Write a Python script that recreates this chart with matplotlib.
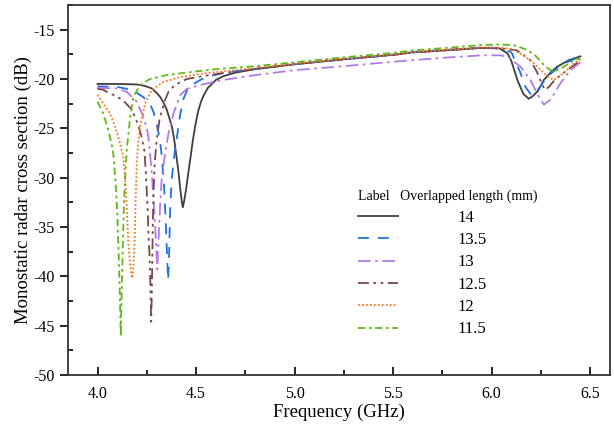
import matplotlib
matplotlib.use("Agg")
import matplotlib.pyplot as plt
from matplotlib.ticker import MultipleLocator, FormatStrFormatter

plt.rcParams['font.family'] = ['Liberation Serif', 'DejaVu Serif']
plt.rcParams['axes.unicode_minus'] = False

# 14 mm
f_14 = [4.0, 4.1, 4.2, 4.24, 4.275, 4.30, 4.317, 4.335, 4.351, 4.365, 4.377, 4.388, 4.398,
        4.41, 4.42, 4.428, 4.433, 4.44, 4.449, 4.46, 4.47, 4.483, 4.495, 4.51, 4.525, 4.54,
        4.56, 4.6, 4.64, 4.7, 4.8, 5.0, 5.25, 5.5, 5.6, 5.8, 5.95, 6.04, 6.08, 6.1, 6.13,
        6.16, 6.188, 6.21, 6.235, 6.264, 6.3, 6.332, 6.39, 6.45]
rcs_14 = [-20.5, -20.5, -20.55, -20.7, -20.95, -21.4, -21.8, -22.4, -23.1, -24.0, -24.8, -26.0, -27.5,
          -29.3, -31.2, -32.5, -33.0, -32.3, -31.2, -29.6, -28.2, -26.3, -24.8, -23.3, -22.3, -21.6,
          -20.9, -20.1, -19.7, -19.35, -19.0, -18.5, -18.0, -17.55, -17.3, -17.05, -16.85, -16.9, -17.4, -18.2, -20.1,
          -21.5, -22.0, -21.7, -21.2, -20.1, -19.3, -18.75, -18.1, -17.7]

# 13.5 mm
f_135 = [4.0, 4.1, 4.15, 4.19, 4.23, 4.266, 4.285, 4.30, 4.315, 4.326, 4.338, 4.346, 4.352,
         4.358, 4.363, 4.368, 4.375, 4.385, 4.393, 4.402, 4.42, 4.436, 4.453, 4.48, 4.52, 4.57,
         4.65, 4.8, 5.0, 5.25, 5.5, 5.6, 5.8, 5.95, 6.05, 6.1, 6.146, 6.171, 6.196, 6.21,
         6.225, 6.239, 6.281, 6.349, 6.45]
rcs_135 = [-20.75, -20.8, -21.0, -21.3, -21.8, -22.5, -23.4, -24.6, -26.0, -27.8, -31.0, -34.5, -37.5,
           -40.4, -38.0, -33.5, -30.5, -28.5, -27.2, -26.0, -23.5, -22.0, -21.2, -20.6, -20.1, -19.7,
           -19.35, -18.95, -18.5, -18.0, -17.55, -17.25, -17.0, -16.8, -16.85, -17.3, -19.4, -20.8, -21.5, -21.6,
           -21.3, -20.95, -19.8, -18.6, -17.7]

# 13 mm
f_13 = [4.0, 4.1, 4.148, 4.199, 4.232, 4.25, 4.258, 4.266, 4.275, 4.283, 4.29, 4.297, 4.303,
        4.309, 4.317, 4.326, 4.343, 4.36, 4.385, 4.42, 4.453, 4.52, 4.637, 4.8, 5.0, 5.25,
        5.5, 5.75, 5.95, 6.044, 6.08, 6.146, 6.196, 6.239, 6.264, 6.298, 6.349, 6.4, 6.45]
rcs_13 = [-20.9, -20.95, -21.3, -22.3, -23.8, -25.0, -25.9, -27.5, -29.5, -31.9, -34.0, -36.8, -39.3,
          -36.5, -33.0, -30.0, -27.5, -25.5, -23.5, -21.6, -21.0, -20.6, -20.1, -19.6, -19.1, -18.7,
          -18.25, -17.85, -17.6, -17.6, -17.75, -18.75, -20.1, -21.8, -22.6, -22.1, -20.4, -19.1, -18.3]

# 12.5 mm
f_125 = [4.0, 4.03, 4.063, 4.1, 4.131, 4.174, 4.207, 4.225, 4.238, 4.245, 4.254, 4.258, 4.263,
         4.267, 4.27, 4.272, 4.275, 4.278, 4.281, 4.285, 4.29, 4.30, 4.315, 4.343, 4.36, 4.393,
         4.453, 4.537, 4.65, 4.8, 5.0, 5.25, 5.5, 5.6, 5.8, 5.95, 6.05, 6.129, 6.196, 6.23,
         6.25, 6.27, 6.29, 6.315, 6.349, 6.417, 6.45]
rcs_125 = [-21.0, -21.1, -21.45, -21.8, -22.2, -23.1, -24.7, -26.0, -27.3, -29.5, -33.0, -35.6, -37.5,
           -40.0, -42.4, -44.6, -42.0, -38.0, -34.0, -31.0, -28.5, -26.2, -24.0, -22.1, -21.3, -20.6,
           -20.0, -19.7, -19.35, -19.0, -18.5, -18.0, -17.55, -17.3, -17.05, -16.85, -16.9, -17.1, -18.1, -19.3,
           -20.3, -21.1, -20.8, -20.2, -19.6, -18.6, -18.1]

# 12 mm
f_12 = [4.0, 4.029, 4.063, 4.089, 4.114, 4.131, 4.14, 4.148, 4.156, 4.165, 4.175, 4.182, 4.188,
        4.193, 4.199, 4.207, 4.216, 4.241, 4.275, 4.334, 4.419, 4.55, 4.7, 5.0, 5.25, 5.5,
        5.6, 5.8, 5.95, 6.05, 6.1, 6.162, 6.213, 6.264, 6.298, 6.315, 6.366, 6.417, 6.45]
rcs_12 = [-21.6, -22.5, -23.5, -24.8, -26.5, -27.9, -30.0, -33.0, -36.5, -38.8, -40.2, -39.0, -36.5,
          -32.5, -28.5, -26.3, -24.8, -22.5, -21.1, -20.3, -19.8, -19.4, -19.1, -18.45, -17.95, -17.5,
          -17.25, -17.0, -16.8, -16.85, -16.95, -17.6, -18.4, -19.4, -19.9, -20.1, -19.4, -18.4, -18.0]

# 11.5 mm
f_115 = [4.0, 4.029, 4.055, 4.078, 4.09, 4.10, 4.105, 4.11, 4.114, 4.118, 4.122, 4.128, 4.135,
         4.148, 4.165, 4.182, 4.216, 4.266, 4.351, 4.47, 4.6, 4.8, 5.0, 5.25, 5.5, 5.6,
         5.8, 5.95, 6.05, 6.12, 6.18, 6.22, 6.256, 6.29, 6.315, 6.366, 6.417, 6.45]
rcs_115 = [-22.3, -23.5, -25.2, -27.2, -30.0, -33.5, -36.5, -39.5, -42.5, -46.1, -42.0, -37.0, -32.0,
           -27.2, -24.0, -21.8, -20.6, -20.0, -19.6, -19.3, -19.0, -18.7, -18.3, -17.8, -17.35, -17.1,
           -16.8, -16.55, -16.5, -16.6, -17.06, -17.6, -18.4, -19.0, -19.26, -18.75, -18.1, -17.9]

labels = ['14', '13.5', '13', '12.5', '12', '11.5']
colors = ['#3f3f3f', '#1f72e0', '#b27ae6', '#7a4747', '#ff7420', '#62b81a']
styles = ['-', (0, (6, 5)), (0, (7, 2.5, 1.5, 2.5)), (0, (6, 2.5, 1.5, 2.5, 1.5, 2.5)),
          (0, (1, 1.2)), (0, (4, 2, 1.5, 2))]
series = [(f_14, rcs_14), (f_135, rcs_135), (f_13, rcs_13),
          (f_125, rcs_125), (f_12, rcs_12), (f_115, rcs_115)]

fig = plt.figure(figsize=(6.14, 4.29), dpi=100)
ax = fig.add_axes([0.1107, 0.1259, 0.8828, 0.8624])

for (fx, ry), lab, c, ls in zip(series, labels, colors, styles):
    ax.plot(fx, ry, color=c, linestyle=ls, lw=1.3, label=lab)

ax.set_xlim(3.85, 6.6)
ax.set_ylim(-50, -12.5)
ax.xaxis.set_major_locator(MultipleLocator(0.5))
ax.xaxis.set_minor_locator(MultipleLocator(0.25))
ax.yaxis.set_major_locator(MultipleLocator(5))
ax.yaxis.set_minor_locator(MultipleLocator(2.5))
ax.xaxis.set_major_formatter(FormatStrFormatter('%.1f'))
ax.yaxis.set_major_formatter(FormatStrFormatter('%d'))

ax.tick_params(axis='x', which='major', direction='in', length=6, width=1.2, labelsize=11.5, pad=8)
ax.tick_params(axis='x', which='minor', direction='in', length=3.5, width=1.2)
ax.tick_params(axis='y', which='major', direction='out', length=6, width=1.2, labelsize=11.5)
ax.tick_params(axis='y', which='minor', direction='in', length=3.5, width=1.2)
for s in ax.spines.values():
    s.set_linewidth(1.3)
    s.set_color('#333333')

ax.set_xlabel('Frequency (GHz)', fontsize=13.5, labelpad=1)
ax.set_ylabel('Monostatic radar cross section (dB)', fontsize=13.5, labelpad=1)

leg = ax.legend(title='Label   Overlapped length (mm)', title_fontsize=10, fontsize=12,
                loc='upper left', bbox_to_anchor=(0.535, 0.50), frameon=False,
                alignment='left', handlelength=2.4, handletextpad=3.6,
                labelspacing=0.38, borderpad=0, borderaxespad=0)

fig.savefig('out.png', dpi=100)
